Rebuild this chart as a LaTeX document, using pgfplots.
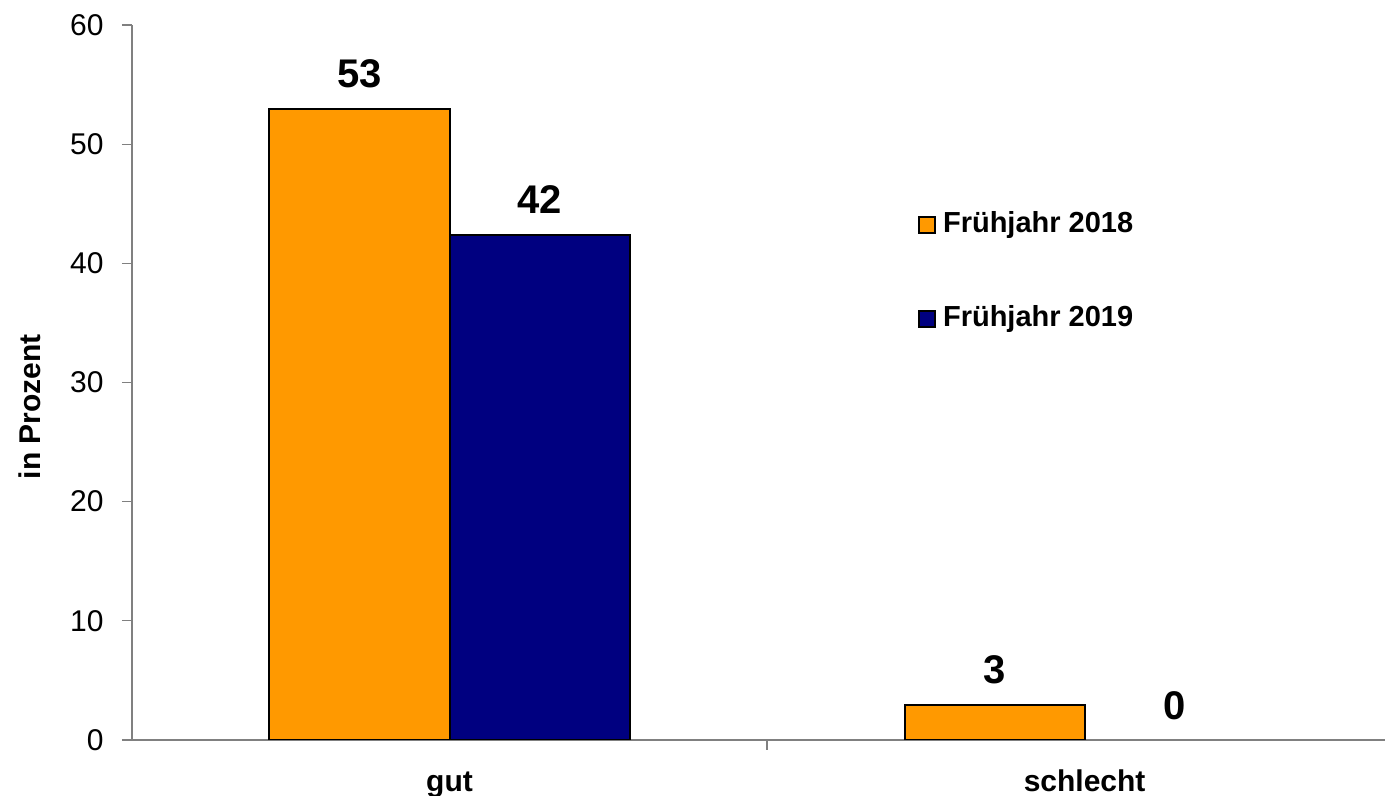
\documentclass[border=0pt]{standalone}
\usepackage{fontspec}
\setmainfont{Liberation Sans}
\usepackage{pgfplots}
\pgfplotsset{compat=1.18}
\usetikzlibrary{calc}
\definecolor{orangebar}{HTML}{FF9900}
\definecolor{navybar}{HTML}{000080}
\definecolor{axisgray}{HTML}{808080}
\begin{document}
\begin{tikzpicture}
\begin{axis}[
  scale only axis,
  width=626.5pt, height=357.5pt,
  xmin=-0.5, xmax=1.473,
  ymin=0, ymax=60,
  axis lines*=left,
  axis line style={axisgray, line width=0.6pt},
  ytick={0,10,...,60},
  ytick style={axisgray, line width=0.6pt},
  tick align=outside,
  major tick length=5pt,
  yticklabel style={font=\fontsize{15}{18}\selectfont, inner sep=0pt, anchor=east, xshift=-9pt},
  /pgf/number format/assume math mode=true,
  xtick={0,1},
  xticklabels={gut,schlecht},
  x tick style={draw=none},
  xticklabel style={font=\bfseries\fontsize{15}{18}\selectfont, anchor=base, inner sep=0pt, yshift=-21pt},
  extra x ticks={0.5},
  extra x tick labels={},
  extra x tick style={x tick style={draw=axisgray, line width=0.6pt}},
  ybar,
  bar width=0.2835,
  legend style={draw=none, fill=none, inner sep=0pt, at={(rel axis cs:0.627,0.738)}, anchor=north west,
    nodes={inner sep=0pt, text height=10pt, text depth=0pt, font=\bfseries\fontsize{14.5}{16}\selectfont},
    row sep=36.5pt, column sep=3.5pt},
  legend cell align=left,
  legend image code/.code={\draw[#1, bar shift=0pt] (0pt,-5pt) rectangle (8pt,3pt);},
  point meta=explicit symbolic,
  nodes near coords,
  every node near coord/.append style={font=\bfseries\fontsize{20}{24}\selectfont, anchor=south, inner sep=0pt, yshift=10pt, text=black},
]
\addplot[fill=orangebar, draw=black, line width=1pt, bar shift=-0.14175] coordinates {(0,52.95)[53] (1,2.94)[3]};
\addlegendentry{Frühjahr 2018}
\addplot[fill=navybar, draw=black, line width=1pt, bar shift=0.14175] coordinates {(0,42.4)[42]};
\addlegendentry{Frühjahr 2019}
\addplot[draw=none, fill=none, bar shift=0.14175, forget plot] coordinates {(1,0)[0]};
\coordinate (sw) at (rel axis cs:0,0);
\coordinate (ne) at (rel axis cs:1,1);
\end{axis}
\node[rotate=90, font=\bfseries\fontsize{15}{18}\selectfont] at ($(sw)+(-51pt,166.6pt)$) {in Prozent};
\pgfresetboundingbox
\path[use as bounding box] ($(sw)+(-66pt,-28pt)$) rectangle ($(ne)+(0,12.5pt)$);
\end{tikzpicture}
\end{document}
